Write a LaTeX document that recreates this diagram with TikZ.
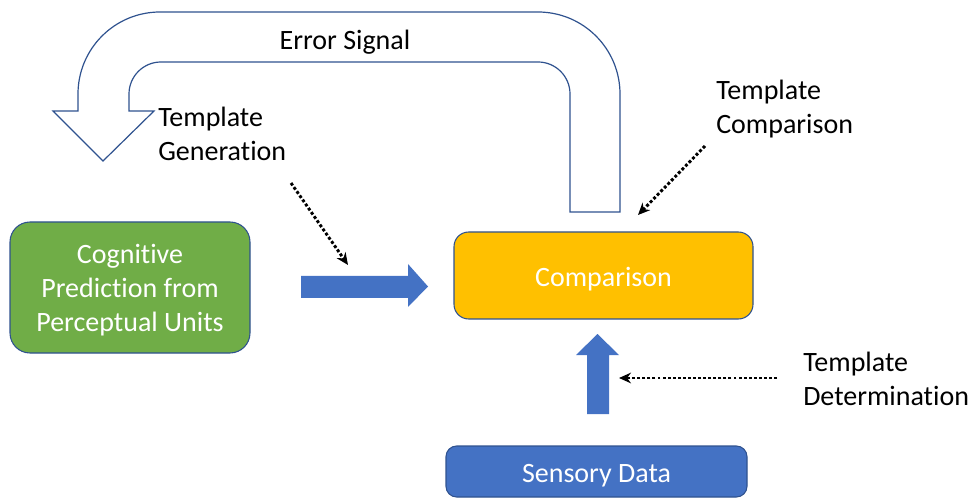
\documentclass[tikz,border=0pt]{standalone}
\usepackage{fontspec}
\setmainfont{Carlito}[Ligatures=NoCommon]
\usetikzlibrary{arrows.meta}
\definecolor{cgreen}{HTML}{70AD47}
\definecolor{cyellow}{HTML}{FFC000}
\definecolor{cblue}{HTML}{4472C4}
\definecolor{cedge}{HTML}{2F528F}
\begin{document}
\begin{tikzpicture}[x=0.75pt,y=-0.75pt,
  txt/.style={font=\fontsize{21}{25.5}\selectfont},
  boxnode/.style={txt, draw=cedge, line width=0.8pt, text=white, align=center, inner sep=0pt},
  label/.style={txt, align=left, anchor=north west, inner sep=0pt},
  bigarrow/.style={fill=cblue, draw=none},
  dotarrow/.style={dash pattern=on 2.2pt off 1.6pt, line width=2.2pt, -{Stealth[length=9pt,width=8pt]}}]
\useasboundingbox (0,0) rectangle (972,499);

% U-turn arrow
\draw[cedge, line width=0.9pt, fill=white]
  (620,212) -- (620,94) arc[start angle=0, end angle=-90, radius=82]
  -- (160,12) arc[start angle=-90, end angle=-180, radius=82]
  -- (78,111) -- (53,111) -- (103,161) -- (154,111) -- (129,111)
  -- (129,94) arc[start angle=180, end angle=270, radius=32]
  -- (538,62) arc[start angle=270, end angle=360, radius=32]
  -- (570,212) -- cycle;
\node[txt] (err) at (345,42) {Error Signal};

% boxes
\node[boxnode, fill=cgreen, minimum width=180pt, minimum height=98.25pt, rounded corners=15pt] (pred) at (130,287.5)
  {\raisebox{-2.25pt}[\height][\depth]{\begin{tabular}{@{}c@{}}Cognitive\\Prediction from\\Perceptual Units\end{tabular}}};
\node[boxnode, fill=cyellow, minimum width=224.25pt, minimum height=65.25pt, rounded corners=11pt,
  text height=21pt, text depth=4.2pt] (comp) at (603.5,275.5) {Comparison};
\node[boxnode, fill=cblue, minimum width=225.75pt, minimum height=38.25pt, rounded corners=8pt,
  text height=21pt, text depth=4.2pt] (sens) at (596.5,471.5) {Sensory Data};

% labels
\node[label] (tgen) at (158,107) {Template\\Generation};
\node[label] (tcomp) at (716,80) {Template\\Comparison};
\node[label] (tdet) at (803,352) {Template\\Determination};

% thick arrows
\path[bigarrow] (301,276) -- (408,276) -- (408,264) -- (428,286.5) -- (408,307) -- (408,298) -- (301,298) -- cycle;
\path[bigarrow] (587,414) -- (587,355) -- (576,355) -- (597.5,334) -- (619,355) -- (609,355) -- (609,414) -- cycle;

% dotted arrows
\coordinate (g1) at (291,183);
\coordinate (g2) at (348,265);
\coordinate (c1) at (705,146);
\coordinate (c2) at (638,215);
\coordinate (d1) at (777,378);
\coordinate (d2) at (619,378);
\draw[dotarrow] (g1) -- (g2);
\draw[dotarrow] (c1) -- (c2);
\draw[dotarrow] (d1) -- (d2);
\end{tikzpicture}
\end{document}
